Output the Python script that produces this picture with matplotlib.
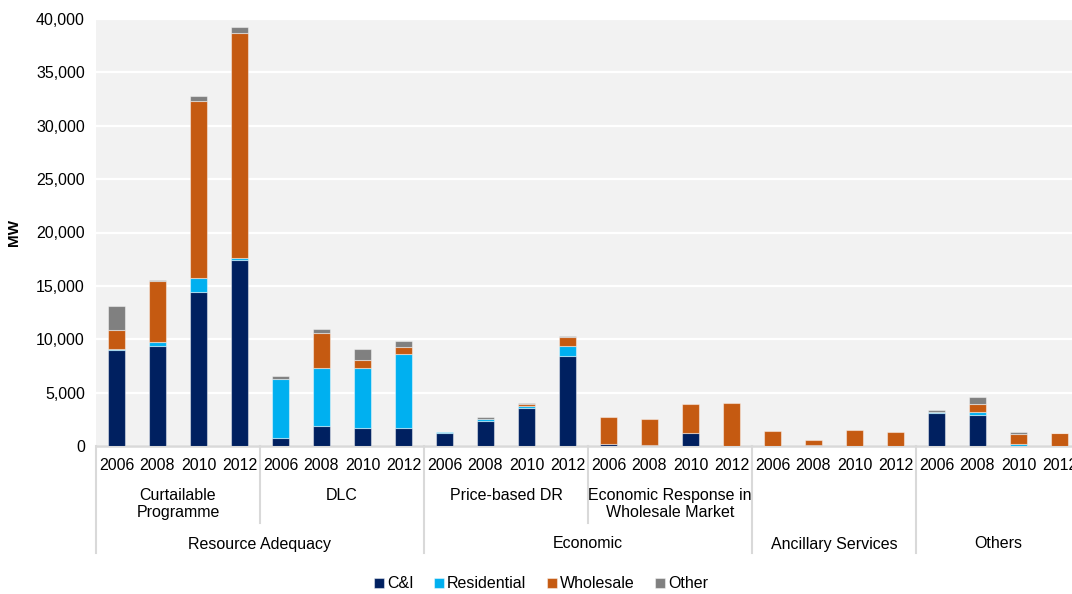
import matplotlib
matplotlib.use("Agg")
import matplotlib.pyplot as plt
from matplotlib.ticker import FuncFormatter

plt.rcParams['font.family'] = ['Liberation Sans', 'DejaVu Sans']
plt.rcParams['font.size'] = 11.5

years = ["2006", "2008", "2010", "2012"]
programmes = ["Curtailable\nProgramme", "DLC", "Price-based DR",
              "Economic Response in\nWholesale Market", "", ""]
categories = ["Resource Adequacy", "Economic", "Ancillary Services", "Others"]
category_spans = [(0, 2), (2, 4), (4, 5), (5, 6)]  # programme index ranges

ci = [9000, 9400, 14400, 17400, 750, 1900, 1700, 1650, 1200, 2350, 3600, 8450,
      200, 120, 1200, 30, 0, 120, 0, 0, 3050, 2950, 0, 0]
residential = [100, 350, 1300, 250, 5550, 5450, 5600, 7000, 100, 150, 150, 950,
               0, 0, 0, 0, 0, 0, 0, 0, 100, 200, 220, 0]
wholesale = [1800, 5750, 16650, 21000, 0, 3200, 800, 650, 0, 0, 200, 800,
             2500, 2450, 2750, 3970, 1450, 420, 1530, 1280, 0, 800, 950, 1180]
other = [2200, 50, 450, 600, 250, 450, 1000, 550, 0, 200, 80, 100,
         0, 0, 0, 0, 0, 0, 0, 0, 250, 600, 120, 40]

series = [("C&I", ci, "#002060"), ("Residential", residential, "#00B0F0"),
          ("Wholesale", wholesale, "#C55A11"), ("Other", other, "#808080")]

W, H = 1072, 594
fig = plt.figure(figsize=(W / 100, H / 100), dpi=100)
ax = fig.add_axes([96 / W, (H - 446) / H, 984 / W, 427 / H])

x = list(range(len(ci)))
bottom = [0] * len(ci)
for name, vals, col in series:
    edges = [(1, 1, 1, 0.45) if v > 0 else "none" for v in vals]
    ax.bar(x, vals, 0.41, bottom=bottom, color=col, edgecolor=edges,
           linewidth=0.8, label=name, zorder=3)
    bottom = [b + v for b, v in zip(bottom, vals)]

ax.set_xlim(-0.5, len(ci) - 0.5)
ax.set_ylim(0, 40000)
ax.set_yticks(range(0, 40001, 5000))
ax.yaxis.set_major_formatter(FuncFormatter(lambda v, p: f"{int(v):,}"))
ax.set_facecolor("#F2F2F2")
ax.grid(axis="y", color="white", linewidth=1.6, zorder=0)
ax.set_axisbelow(True)
ax.set_xticks([])
ax.tick_params(axis="y", length=0, pad=8)
for s in ["top", "right", "left"]:
    ax.spines[s].set_visible(False)
ax.spines["bottom"].set_color("#D9D9D9")
ax.spines["bottom"].set_linewidth(1.8)
ax.set_ylabel("MW", fontweight="bold", fontsize=11)
ax.yaxis.set_label_coords(-0.076, 0.5)

# multi-level category axis
tr = ax.get_xaxis_transform()
px = 1 / 427
for i, xi in enumerate(x):
    ax.annotate(years[i % 4], xy=(xi, 0), xycoords=tr, xytext=(0, -20),
                textcoords="offset pixels", ha="center", va="center")
for g, name in enumerate(programmes):
    if name:
        ax.annotate(name, xy=(g * 4 + 1.5, 0), xycoords=tr, xytext=(0, -42),
                    textcoords="offset pixels", ha="center", va="top",
                    linespacing=1.2)
for (a, b), name in zip(category_spans, categories):
    ax.annotate(name, xy=((a * 4 + b * 4 - 1) / 2, 0), xycoords=tr,
                xytext=(0, -98), textcoords="offset pixels",
                ha="center", va="center")

full = [0, 2, 4, 5, 6]
for g in range(7):
    depth = 107 if g in full else 77
    ax.plot([g * 4 - 0.5] * 2, [0, -depth * px], transform=tr, color="#D9D9D9",
            linewidth=1.5, clip_on=False, zorder=1)

fig.legend(loc="center", bbox_to_anchor=(541 / W, 1 - 584 / H), ncol=4,
           frameon=False, handlelength=0.6, handleheight=0.6, handletextpad=0.2,
           columnspacing=1.3)

fig.savefig("out.png", dpi=100)
